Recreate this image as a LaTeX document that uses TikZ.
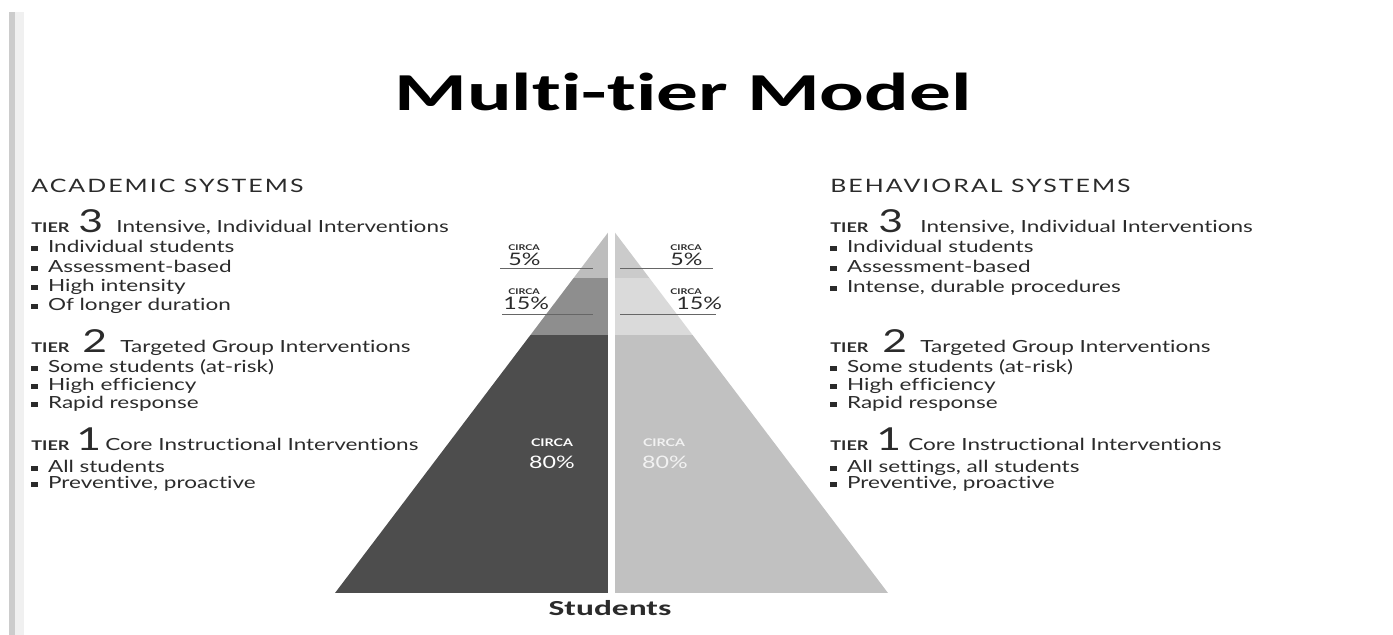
\documentclass[tikz,border=0pt]{standalone}
\usepackage{fontspec}
\setmainfont{Lato}[FakeStretch=1.35, Ligatures=NoCommon]
\newfontfamily\titlefont{Carlito}[FakeStretch=1.56, Ligatures=NoCommon]
\usepackage{xcolor}
\usetikzlibrary{positioning}

\definecolor{acadtop}{HTML}{BDBDBD}
\definecolor{acadmid}{HTML}{8E8E8E}
\definecolor{acadlow}{HTML}{4D4D4D}
\definecolor{behavtop}{HTML}{CBCBCB}
\definecolor{behavmid}{HTML}{DADADA}
\definecolor{behavlow}{HTML}{C1C1C1}
\definecolor{ink}{HTML}{2B2B2B}

\newcommand{\sqb}{\textcolor{ink}{\rule[0.7pt]{4pt}{2.8pt}}\hspace{5.5pt}}

\begin{document}
\begin{tikzpicture}[x=0.02cm, y=-0.02cm,
    txt/.style={anchor=base west, inner sep=0pt, text=ink, font=\fontsize{9.5}{11}\selectfont},
    sysname/.style={txt, font=\fontsize{10.5}{12}\selectfont\addfontfeatures{LetterSpace=11}},
    tiertag/.style={txt, font=\fontsize{7.6}{8}\selectfont\bfseries},
    tiernum/.style={txt, font=\fontsize{18}{20}\selectfont},
    circa/.style={txt, font=\fontsize{4.5}{5}\selectfont\bfseries},
    pct/.style={txt, font=\fontsize{9.8}{11}\selectfont},
    inside/.style={anchor=base, inner sep=0pt, font=\fontsize{9.8}{11}\selectfont},
    insidetag/.style={anchor=base, inner sep=0pt, font=\fontsize{6}{7}\selectfont\bfseries},
    rulestroke/.style={draw=black!60, line width=0.5pt}]
    \useasboundingbox (0,0) rectangle (1393,635);

    % page edge
    \fill[black!20] (9,12) rectangle (15,635);
    \fill[black!6] (15,12) rectangle (24,635);

    \node[anchor=base, inner sep=0pt, font=\titlefont\fontsize{30.4}{34}\selectfont\bfseries] (title) at (683,111) {Multi-tier Model};

    % pyramid
    \begin{scope}
        \clip (611.5,228) -- (335,593) -- (888,593) -- cycle;
        \fill[acadtop] (330,220) rectangle (608,278);
        \fill[acadmid] (330,278) rectangle (608,335);
        \fill[acadlow] (330,335) rectangle (608,593);
        \fill[behavtop] (615,220) rectangle (895,278);
        \fill[behavmid] (615,278) rectangle (895,335);
        \fill[behavlow] (615,335) rectangle (895,593);
    \end{scope}

    \draw[rulestroke] (500,268) -- (593,268);
    \draw[rulestroke] (620,268) -- (713,268);
    \draw[rulestroke] (502,314) -- (593,314);
    \draw[rulestroke] (620,314) -- (716,314);

    \node[circa] (ac5) at (508,250) {CIRCA};
    \node[pct] (ap5) at (508,265) {5\%};
    \node[circa] (ac15) at (508,294) {CIRCA};
    \node[pct] (ap15) at (503,309) {15\%};
    \node[circa] (bc5) at (670,250) {CIRCA};
    \node[pct] (bp5) at (670,265) {5\%};
    \node[circa] (bc15) at (670,294) {CIRCA};
    \node[pct] (bp15) at (676,309) {15\%};

    \node[insidetag, text=white] (ac80) at (552,446) {CIRCA};
    \node[inside, text=white] (ap80) at (552,468) {80\%};
    \node[insidetag, text=black!5] (bc80) at (664,446) {CIRCA};
    \node[inside, text=black!5] (bp80) at (665,468) {80\%};

    \node[anchor=base, inner sep=0pt, text=ink, font=\titlefont\fontsize{12.2}{14}\selectfont\bfseries] (students) at (610,615) {Students};

    % academic side
    \node[sysname] (acad) at (31,193) {ACADEMIC SYSTEMS};

    \node[tiertag] (a3tag) at (31,232) {TIER};
    \node[tiernum] (a3num) at (78,232) {3};
    \node[txt] (a3head) at (116,232) {Intensive, Individual Interventions};
    \node[txt] (a3i) at (31,252) {\sqb Individual students};
    \node[txt] (a3ii) at (31,272) {\sqb Assessment-based};
    \node[txt] (a3iii) at (31,291) {\sqb High intensity};
    \node[txt] (a3iv) at (31,310) {\sqb Of longer duration};

    \node[tiertag] (a2tag) at (31,352) {TIER};
    \node[tiernum] (a2num) at (82,352) {2};
    \node[txt] (a2head) at (120,352) {Targeted Group Interventions};
    \node[txt] (a2i) at (31,372) {\sqb Some students (at-risk)};
    \node[txt] (a2ii) at (31,390) {\sqb High efficiency};
    \node[txt] (a2iii) at (31,408) {\sqb Rapid response};

    \node[tiertag] (a1tag) at (31,450) {TIER};
    \node[tiernum] (a1num) at (76,450) {1};
    \node[txt] (a1head) at (105,450) {Core Instructional Interventions};
    \node[txt] (a1i) at (31,472) {\sqb All students};
    \node[txt] (a1ii) at (31,488) {\sqb Preventive, proactive};

    % behavioral side
    \node[sysname] (behav) at (830,193) {BEHAVIORAL SYSTEMS};

    \node[tiertag] (b3tag) at (830,232) {TIER};
    \node[tiernum] (b3num) at (878,232) {3};
    \node[txt] (b3head) at (920,232) {Intensive, Individual Interventions};
    \node[txt] (b3i) at (830,252) {\sqb Individual students};
    \node[txt] (b3ii) at (830,272) {\sqb Assessment-based};
    \node[txt] (b3iii) at (830,292) {\sqb Intense, durable procedures};

    \node[tiertag] (b2tag) at (830,352) {TIER};
    \node[tiernum] (b2num) at (882,352) {2};
    \node[txt] (b2head) at (920,352) {Targeted Group Interventions};
    \node[txt] (b2i) at (830,372) {\sqb Some students (at-risk)};
    \node[txt] (b2ii) at (830,390) {\sqb High efficiency};
    \node[txt] (b2iii) at (830,408) {\sqb Rapid response};

    \node[tiertag] (b1tag) at (830,450) {TIER};
    \node[tiernum] (b1num) at (876,450) {1};
    \node[txt] (b1head) at (908,450) {Core Instructional Interventions};
    \node[txt] (b1i) at (830,472) {\sqb All settings, all students};
    \node[txt] (b1ii) at (830,488) {\sqb Preventive, proactive};
\end{tikzpicture}
\end{document}
